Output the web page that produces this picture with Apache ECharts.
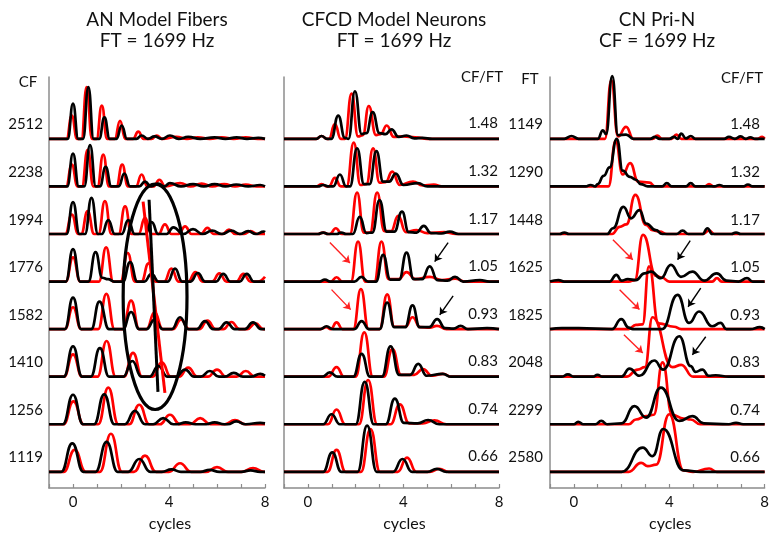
<!DOCTYPE html>
<html><head><meta charset="utf-8">
<script src="https://cdn.jsdelivr.net/npm/echarts@6/dist/echarts.min.js"></script>
<style>html,body{margin:0;padding:0;background:#fff}#c{width:772px;height:533px}</style>
</head><body><div id="c"></div>
<script>
// ---------- labels ----------
const titles = [['AN Model Fibers','FT = 1699 Hz'],['CFCD Model Neurons','FT = 1699 Hz'],['CN Pri-N','CF = 1699 Hz']];
const anCF = ['2512','2238','1994','1776','1582','1410','1256','1119'];
const cfftLabels = ['1.48','1.32','1.17','1.05','0.93','0.83','0.74','0.66'];
const cnFT = ['1149','1290','1448','1625','1825','2048','2299','2580'];
const xTicks = [0,4,8];
const xName = 'cycles';

// ---------- traces: [cycles, response] per row (top row first) ----------
const anBlack = [
 [[-1,0],[-.22,0],[0,.74],[.22,0],[.42,0],[.64,1.09],[.86,0],[1.09,0],[1.31,.45],[1.53,0],[1.81,0],[2.03,.28],[2.25,0],[2.64,0],[2.86,.07],[3.12,0],[3.4,.05],[3.7,0],[4.04,.07],[4.4,0],[4.8,.04],[5.3,0],[5.9,.03],[6.35,0],[6.82,.03],[7.25,0],[7.72,.02],[8,0]],
 [[-1,0],[-.24,0],[0,.69],[.24,0],[.47,0],[.71,.87],[.95,0],[1.12,0],[1.36,.41],[1.6,0],[1.9,0],[2.14,.27],[2.38,0],[2.76,0],[3.0,.1],[3.25,0],[3.55,.06],[3.8,0],[4.04,.07],[4.5,0],[5.0,.05],[5.45,0],[5.9,.05],[6.35,0],[6.8,.04],[7.3,0],[7.8,.03],[8,0]],
 [[-1,0],[-.27,0],[0,.67],[.27,0],[.5,0],[.77,.76],[1.04,0],[1.2,0],[1.47,.29],[1.74,0],[2.03,0],[2.3,.29],[2.57,0],[3.0,0],[3.28,.25],[3.55,0],[3.9,0],[4.18,.14],[4.6,0],[5.0,.1],[5.4,0],[5.8,.07],[6.2,0],[6.6,.07],[6.95,0],[7.3,.06],[7.62,0],[7.95,.05],[8,.04]],
 [[-1,0],[-.3,0],[0,.68],[.3,0],[.64,0],[.94,.62],[1.22,.08],[1.46,.05],[1.72,0],[2.08,0],[2.38,.41],[2.68,0],[2.97,0],[3.27,.16],[3.57,0],[3.95,0],[4.25,.27],[4.55,0],[4.9,0],[5.2,.18],[5.5,0],[5.96,0],[6.26,.16],[6.56,0],[6.94,0],[7.24,.16],[7.54,0],[8,0]],
 [[-1,0],[-.34,0],[0,.66],[.34,0],[.76,0],[1.1,.58],[1.5,0],[2.08,0],[2.42,.36],[2.76,0],[3.06,0],[3.4,.2],[3.74,0],[4.12,0],[4.46,.25],[4.8,0],[5.16,0],[5.5,.17],[5.84,0],[6.06,0],[6.4,.14],[6.74,0],[7.16,0],[7.5,.14],[7.84,0],[8,0]],
 [[-1,0],[-.38,0],[0,.64],[.38,0],[.74,0],[1.12,.6],[1.5,0],[2.09,0],[2.47,.33],[2.85,0],[3.18,0],[3.56,.22],[3.94,0],[4.29,0],[4.67,.15],[5.05,0],[5.32,0],[5.7,.12],[6.08,0],[6.32,0],[6.7,.08],[7.08,0],[7.42,0],[7.8,.06],[8,.02]],
 [[-1,0],[-.42,0],[0,.62],[.42,0],[.88,0],[1.3,.63],[1.72,0],[2.16,0],[2.58,.28],[3.0,0],[3.34,0],[3.76,.13],[4.18,0],[4.35,0],[4.7,.04],[5.1,0],[5.55,0],[5.9,.04],[6.3,0],[6.45,0],[6.8,.06],[7.2,0],[7.8,.03],[8,.02]],
 [[-1,0],[-.49,0],[-.03,.6],[.43,0],[.94,0],[1.4,.63],[1.86,0],[2.3,0],[2.76,.27],[3.22,0],[3.7,0],[4.1,.05],[4.5,0],[5.3,0],[5.7,.04],[6.1,0],[7.0,0],[7.4,.03],[7.8,0],[8,0]]
];
const anRed = [
 [[-1,0],[-.27,0],[-.05,.49],[.17,0],[.35,0],[.57,1.09],[.79,0],[.98,0],[1.2,.7],[1.42,0],[1.74,0],[1.96,.38],[2.18,0],[2.5,0],[2.72,.15],[2.94,0],[3.27,0],[3.49,.07],[3.71,0],[4.3,.04],[4.75,0],[5.2,.03],[5.7,0],[6.2,.03],[6.7,0],[7.2,.03],[7.7,0],[8,0]],
 [[-1,0],[-.29,0],[-.05,.46],[.19,0],[.37,0],[.61,.77],[.85,0],[1.02,0],[1.26,.67],[1.5,0],[1.81,0],[2.05,.46],[2.29,0],[2.62,0],[2.86,.25],[3.1,0],[3.36,0],[3.6,.14],[3.84,0],[4.46,.07],[4.9,0],[5.36,.06],[5.8,0],[6.3,.05],[6.75,0],[7.2,.04],[7.65,0],[8,0]],
 [[-1,0],[-.32,0],[-.05,.41],[.22,0],[.34,0],[.61,.48],[.88,0],[1.06,0],[1.33,.69],[1.6,0],[1.9,0],[2.17,.58],[2.44,0],[2.73,0],[3.0,.34],[3.27,0],[3.56,0],[3.83,.2],[4.1,0],[4.4,0],[4.67,.16],[4.94,0],[5.33,0],[5.6,.13],[5.87,0],[6.23,0],[6.5,.09],[6.77,0],[7.13,0],[7.4,.06],[7.67,0],[8,0]],
 [[-1,0],[-.3,0],[0,.51],[.3,0],[1.08,0],[1.38,.72],[1.68,0],[1.98,0],[2.28,.6],[2.58,0],[2.85,0],[3.15,.38],[3.45,0],[3.8,0],[4.1,.27],[4.4,0],[4.8,0],[5.1,.2],[5.4,0],[5.8,0],[6.1,.17],[6.4,0],[6.8,0],[7.1,.16],[7.4,0],[7.7,0],[8,.1]],
 [[-1,0],[-.34,0],[0,.46],[.34,0],[1.05,0],[1.39,.74],[1.73,0],[2.08,0],[2.42,.6],[2.76,0],[3.06,0],[3.4,.35],[3.74,0],[4.16,0],[4.5,.2],[4.84,0],[5.26,0],[5.6,.18],[5.94,0],[6.26,0],[6.6,.15],[6.94,0],[7.26,0],[7.6,.12],[7.94,0],[8,0]],
 [[-1,0],[-.38,0],[0,.47],[.38,0],[1.02,0],[1.4,.75],[1.78,0],[2.12,0],[2.5,.5],[2.88,0],[3.32,0],[3.7,.3],[4.08,0],[4.42,0],[4.8,.19],[5.18,0],[5.62,0],[6.0,.15],[6.38,0],[6.82,0],[7.2,.12],[7.58,0],[8,0]],
 [[-1,0],[-.4,0],[.02,.48],[.44,0],[1.05,0],[1.47,.77],[1.89,0],[2.34,0],[2.76,.41],[3.18,0],[3.62,0],[4.04,.2],[4.46,0],[4.88,0],[5.3,.13],[5.72,0],[6.33,0],[6.75,.09],[7.17,0],[8,0]],
 [[-1,0],[-.39,0],[.07,.46],[.53,0],[1.12,0],[1.58,.8],[2.04,0],[2.54,0],[3.0,.34],[3.46,0],[4.0,0],[4.46,.18],[4.92,0],[5.54,0],[6.0,.1],[6.46,0],[7.04,0],[7.5,.08],[7.96,0],[8,0]]
];
const cfcdBlack = [
 [[-1,0],[.35,0],[.57,.06],[.8,0],[.98,0],[1.27,.49],[1.55,.02],[1.7,0],[1.97,1.0],[2.25,.1],[2.45,.12],[2.71,.56],[3.0,.12],[3.25,.1],[3.5,.2],[3.8,.04],[4.13,.07],[4.45,.01],[4.8,.02],[5.2,0],[8,0]],
 [[-1,0],[.42,0],[.64,.03],[.88,0],[1.06,0],[1.34,.25],[1.6,0],[1.76,0],[2.06,.8],[2.35,.05],[2.58,.05],[2.87,.74],[3.15,.1],[3.4,.1],[3.68,.27],[4.0,.03],[4.6,.07],[5.0,0],[8,0]],
 [[-1,0],[.42,0],[.64,.03],[.85,0],[1.2,0],[1.4,.03],[1.6,0],[1.88,0],[2.17,.36],[2.45,.02],[2.7,.03],[3.0,.71],[3.3,.05],[3.62,.05],[3.94,.47],[4.22,.04],[4.55,.03],[4.85,.17],[5.15,.02],[5.6,.01],[5.94,.05],[6.3,0],[8,0]],
 [[-1,0],[.48,0],[.71,.04],[.94,0],[1.95,0],[2.24,.1],[2.52,0],[2.85,0],[3.15,.56],[3.45,.04],[3.82,.04],[4.13,.61],[4.43,.05],[4.78,.05],[5.1,.32],[5.42,.03],[5.85,.02],[6.16,.1],[6.5,0],[7.2,.03],[7.6,0],[8,0]],
 [[-1,0],[.52,0],[.78,.06],[1.04,0],[1.95,0],[2.25,.17],[2.55,0],[3.0,0],[3.32,.56],[3.62,.04],[4.07,.04],[4.38,.5],[4.68,.04],[5.08,.04],[5.41,.21],[5.74,.02],[6.1,.01],[6.39,.07],[6.7,0],[7.5,.02],[8,0]],
 [[-1,0],[.6,0],[.92,.09],[1.24,0],[1.9,0],[2.25,.48],[2.6,0],[3.1,0],[3.46,.64],[3.82,.04],[4.28,.04],[4.62,.27],[4.97,.02],[5.64,.06],[6.0,0],[8,0]],
 [[-1,0],[.64,0],[.99,.21],[1.34,0],[2.0,0],[2.38,.89],[2.76,0],[3.26,0],[3.64,.54],[4.02,.03],[4.6,.02],[5.03,.09],[5.5,0],[8,0]],
 [[-1,0],[.64,0],[1.02,.41],[1.4,0],[2.08,0],[2.48,.97],[2.88,0],[3.56,0],[3.96,.27],[4.36,0],[5.0,0],[5.4,.06],[5.8,0],[8,0]]
];
const cfcdRed = [
 [[-1,0],[.35,0],[.57,.06],[.8,0],[.88,0],[1.13,.31],[1.38,0],[1.55,0],[1.83,.95],[2.1,.05],[2.3,.08],[2.55,.69],[2.85,.08],[3.05,.1],[3.3,.28],[3.6,.04],[4.0,.05],[4.5,.03],[5.0,0],[8,0]],
 [[-1,0],[.35,0],[.57,.05],[.8,0],[.88,0],[1.13,.18],[1.38,0],[1.62,0],[1.92,.92],[2.2,.03],[2.45,.05],[2.73,.8],[3.0,.08],[3.25,.09],[3.53,.31],[3.85,.03],[4.4,.1],[4.8,.02],[5.27,.04],[5.6,0],[8,0]],
 [[-1,0],[.42,0],[.64,.03],[.85,0],[.92,0],[1.17,.12],[1.42,0],[1.76,0],[2.06,.87],[2.34,.03],[2.6,.03],[2.9,.87],[3.2,.06],[3.48,.06],[3.78,.38],[4.1,.04],[4.55,.08],[5.0,.02],[5.7,.04],[6.2,0],[8,0]],
 [[-1,0],[.95,0],[1.2,.09],[1.45,0],[1.8,0],[2.1,.84],[2.4,0],[2.78,0],[3.08,.84],[3.38,.05],[3.8,.05],[4.13,.2],[4.5,.05],[5.1,.1],[5.6,.03],[6.16,.06],[6.6,0],[8,0]],
 [[-1,0],[.52,0],[.78,.04],[.96,0],[1.2,.14],[1.45,0],[1.9,0],[2.22,.84],[2.54,0],[3.0,0],[3.32,.73],[3.62,.05],[4.08,.05],[4.38,.25],[4.7,.04],[5.1,.03],[5.4,.07],[5.8,0],[8,0]],
 [[-1,0],[.85,0],[1.2,.2],[1.52,0],[2.0,0],[2.36,.93],[2.72,0],[3.18,0],[3.54,.58],[3.9,.04],[4.45,.04],[4.82,.16],[5.2,.02],[5.66,.06],[6.0,0],[8,0]],
 [[-1,0],[.84,0],[1.2,.31],[1.56,0],[2.14,0],[2.52,.93],[2.9,0],[3.46,0],[3.85,.42],[4.24,.02],[4.8,.02],[5.3,.08],[5.8,0],[8,0]],
 [[-1,0],[.82,0],[1.2,.46],[1.58,0],[2.22,0],[2.62,.9],[3.02,0],[3.76,0],[4.15,.3],[4.54,0],[5.1,0],[5.5,.06],[5.9,0],[8,0]]
];
const cnBlack = [
 [[-1,0],[-.4,0],[-.1,.06],[.2,0],[1.0,0],[1.22,.18],[1.35,.1],[1.61,1.32],[1.85,.08],[2.19,.09],[2.5,0],[3.2,0],[3.4,.04],[3.6,0],[4.0,0],[4.2,.04],[4.35,0],[4.5,.11],[4.7,.01],[4.9,.06],[5.1,0],[6.3,0],[6.5,.04],[6.75,0],[7.0,.05],[7.2,0],[7.4,.03],[7.6,0],[8,0]],
 [[-1,0],[.5,0],[.7,.03],[.9,0],[1.0,.05],[1.25,.22],[1.5,.4],[1.8,1.0],[2.05,.33],[2.35,.2],[2.6,.14],[2.8,.05],[3.1,0],[3.7,0],[3.9,.07],[4.1,0],[4.7,0],[4.9,.07],[5.1,0],[5.9,0],[6.1,.03],[6.3,0],[7.1,0],[7.3,.04],[7.5,0],[8,0]],
 [[-1,0],[-.6,0],[-.4,.03],[-.2,0],[1.4,0],[1.64,.12],[2.08,.57],[2.4,.33],[2.75,.5],[3.03,.22],[3.44,.08],[3.7,0],[4.3,0],[4.56,.07],[4.8,0],[5.4,0],[5.6,.12],[5.8,0],[6.6,0],[6.8,.03],[7.0,0],[8,0]],
 [[-1,0],[-.65,.03],[-.4,0],[1.5,0],[1.78,.14],[2.0,.02],[2.26,.05],[2.6,.03],[2.96,.17],[3.24,.21],[3.65,.07],[4.07,.35],[4.49,.1],[4.97,.21],[5.46,.02],[5.99,.17],[6.4,.02],[6.9,0],[7.26,.07],[7.5,0],[8,0]],
 [[-1,0],[-.5,.02],[.2,.02],[1.6,0],[1.99,.21],[2.3,.03],[2.47,0],[3.7,0],[4.35,.72],[4.83,.13],[5.25,.37],[5.8,.06],[6.15,.13],[6.4,0],[7.4,0],[7.8,.04],[8,0]],
 [[-1,0],[-.5,0],[-.25,.05],[0,0],[.8,0],[.99,.04],[1.2,0],[2.0,0],[2.33,.17],[2.75,.02],[3.37,.34],[3.75,.15],[4.42,.85],[4.9,.22],[5.1,.1],[5.39,.15],[5.65,.02],[5.95,.03],[6.5,0],[8,0]],
 [[-1,0],[0,0],[.18,.05],[.4,0],[.9,0],[1.15,.07],[1.4,0],[2.0,.02],[2.54,.38],[3.03,.14],[3.65,.77],[4.42,.07],[4.97,.17],[5.45,.02],[6.5,0],[6.8,.03],[7.1,0],[8,0]],
 [[-1,0],[2.0,0],[2.89,.51],[3.3,.33],[3.75,.9],[4.6,.03],[5.3,0],[8,0]]
];
const cnRed = [
 [[-1,0],[1.3,0],[1.57,1.23],[1.85,.05],[2.19,.25],[2.5,0],[3.3,0],[3.5,.07],[3.7,0],[4.1,0],[4.3,.09],[4.5,0],[7.7,0],[7.9,.04],[8,0]],
 [[-1,0],[1.45,0],[1.75,.95],[2.05,.25],[2.36,.49],[2.7,.1],[3.17,.08],[3.4,0],[5.5,0],[5.67,.05],[5.85,0],[8,0]],
 [[-1,0],[1.6,0],[1.92,.15],[2.2,.2],[2.58,.82],[3.03,.19],[3.3,.08],[3.6,.05],[3.9,0],[5.4,0],[5.67,.07],[5.9,0],[8,0]],
 [[-1,0],[2.3,0],[2.55,.03],[2.9,.98],[3.45,.12],[3.7,.08],[4.0,0],[5.8,0],[6.0,.07],[6.2,0],[8,0]],
 [[-1,0],[2.3,0],[2.6,.09],[2.88,.1],[3.15,1.32],[3.55,.12],[4.2,.05],[4.5,0],[8,0]],
 [[-1,0],[2.2,0],[2.68,.15],[2.98,.2],[3.3,1.25],[4.14,.2],[4.5,.25],[5.0,0],[8,0]],
 [[-1,0],[2.3,0],[2.6,.1],[3.03,.17],[3.35,.2],[3.72,1.3],[4.12,.2],[4.6,.12],[4.9,.1],[5.3,0],[8,0]],
 [[-1,0],[2.3,0],[2.82,.19],[3.1,.12],[3.45,.15],[4.0,1.21],[4.6,.03],[5.0,0],[5.67,.07],[6.0,0],[8,0]]
];

// ---------- annotations (data coordinates: cycles, stacked row units) ----------
const anEllipse = {center:[3.42,3.68], half:[1.33,2.37]};
const anBlackMark = [[3.17,5.72],[3.54,1.68]];
const anRedMark = [[2.92,5.68],[3.83,1.66]];
const cfcdRedArrows = [[[0.92,4.82],[1.76,4.39]],[[0.99,3.83],[1.79,3.41]]];
const cfcdBlackArrows = [[[5.87,4.82],[5.31,4.42]],[[6.08,3.70],[5.52,3.30]]];
const cnRedArrows = [[[1.64,4.88],[2.47,4.46]],[[1.92,3.83],[2.75,3.41]],[[2.1,2.88],[2.89,2.50]]];
const cnBlackArrows = [[[4.88,4.86],[4.35,4.46]],[[5.32,3.86],[4.79,3.47]],[[5.53,2.84],[4.97,2.46]]];

// ---------- build ----------
const FONT = 'Lato';
const AX = '#8c8c8c';
const chart = echarts.init(document.getElementById('c'));
const gridDefs = [{left:49,width:216},{left:284,width:215},{left:550,width:216}];
const grid = gridDefs.map(g => ({left:g.left, width:g.width, top:77, height:411}));
const xAxis = grid.map((g,i) => ({
  type:'value', gridIndex:i, min:-1, max:8, interval:1,
  axisLine:{onZero:false, lineStyle:{color:AX, width:1.5}},
  axisTick:{inside:true, length:4, lineStyle:{color:AX, width:1.2}},
  axisLabel:{formatter: v => xTicks.includes(v) ? String(v) : '', fontSize:15, color:'#111', margin:7, fontFamily:FONT},
  splitLine:{show:false}
}));
const yAxis = grid.map((g,i) => ({
  type:'value', gridIndex:i, min:-0.34, max:8.3,
  axisLine:{show:true, onZero:false, lineStyle:{color:AX, width:1.5}},
  axisTick:{show:false}, axisLabel:{show:false}, splitLine:{show:false}
}));
const series = [];
const panels = [[anRed, anBlack],[cfcdRed, cfcdBlack],[cnRed, cnBlack]];
panels.forEach((pair, p) => {
  pair.forEach((rows, k) => {
    rows.forEach((pts, i) => {
      series.push({
        type:'line', xAxisIndex:p, yAxisIndex:p, showSymbol:false, symbol:'none',
        smooth:0.5, smoothMonotone:'x', clip:false, silent:true, z: k ? 4 : 3,
        lineStyle:{color: k ? '#000' : '#ff0000', width:2.7, join:'round'},
        data: pts.map(([x,y]) => [x, (7 - i) + y])
      });
    });
  });
});
// annotation lines in panel 1
[[anRedMark,'#ff0000'],[anBlackMark,'#000']].forEach(([pts,c]) => {
  series.push({type:'line', xAxisIndex:0, yAxisIndex:0, showSymbol:false, clip:false, silent:true, z:6,
    lineStyle:{color:c, width:3}, data:pts});
});
// arrows
[[1,cfcdRedArrows,'#ff2020'],[1,cfcdBlackArrows,'#000'],[2,cnRedArrows,'#ff2020'],[2,cnBlackArrows,'#000']].forEach(([p,arr,c]) => {
  series.push({type:'lines', coordinateSystem:'cartesian2d', xAxisIndex:p, yAxisIndex:p, silent:true, z:7,
    symbol:['none','arrow'], symbolSize:7, lineStyle:{color:c, width:1.4, opacity:1},
    data: arr.map(a => ({coords:a}))});
});

chart.setOption({animation:false, backgroundColor:'#fff', grid, xAxis, yAxis, series});

// ---------- texts and ellipse ----------
const px = (p, pt) => chart.convertToPixel({gridIndex:p}, pt);
const g = [];
const txt = (x, y, text, size, align) => g.push({type:'text', x, y, z:20,
  style:{text, fontSize:size, fontFamily:FONT, fill:'#111', textAlign:align||'center', align:align||'center', textVerticalAlign:'middle', verticalAlign:'middle'}});
const titleX = [157, 394, 657];
titles.forEach((t,i) => { txt(titleX[i], 20, t[0], 19); txt(titleX[i], 41, t[1], 19); });
txt(28, 82, 'CF', 15);
txt(530, 79, 'FT', 15);
txt(503, 77, 'CF/FT', 15, 'right');
txt(763, 78, 'CF/FT', 15, 'right');
anCF.forEach((s,i) => { const q = px(0,[0,(7-i)+0.3]); txt(43, q[1], s, 15, 'right'); });
cnFT.forEach((s,i) => { const q = px(2,[0,(7-i)+0.3]); txt(543, q[1], s, 15, 'right'); });
cfftLabels.forEach((s,i) => {
  const q = px(1,[0,(7-i)+0.32]); txt(498, q[1], s, 15, 'right');
  const r = px(2,[0,(7-i)+0.3]); txt(760, r[1], s, 15, 'right');
});
[0,1,2].forEach(p => { const q = px(p,[4,0]); txt(q[0]+1, 524, xName, 16); });
const ec = px(0, anEllipse.center);
const ee = px(0, [anEllipse.center[0]+anEllipse.half[0], anEllipse.center[1]+anEllipse.half[1]]);
g.push({type:'ellipse', z:15, shape:{cx:ec[0], cy:ec[1], rx:Math.abs(ee[0]-ec[0]), ry:Math.abs(ee[1]-ec[1])},
  style:{fill:'none', stroke:'#000', lineWidth:3.2}});
chart.setOption({graphic:{elements:g}});
</script></body></html>
